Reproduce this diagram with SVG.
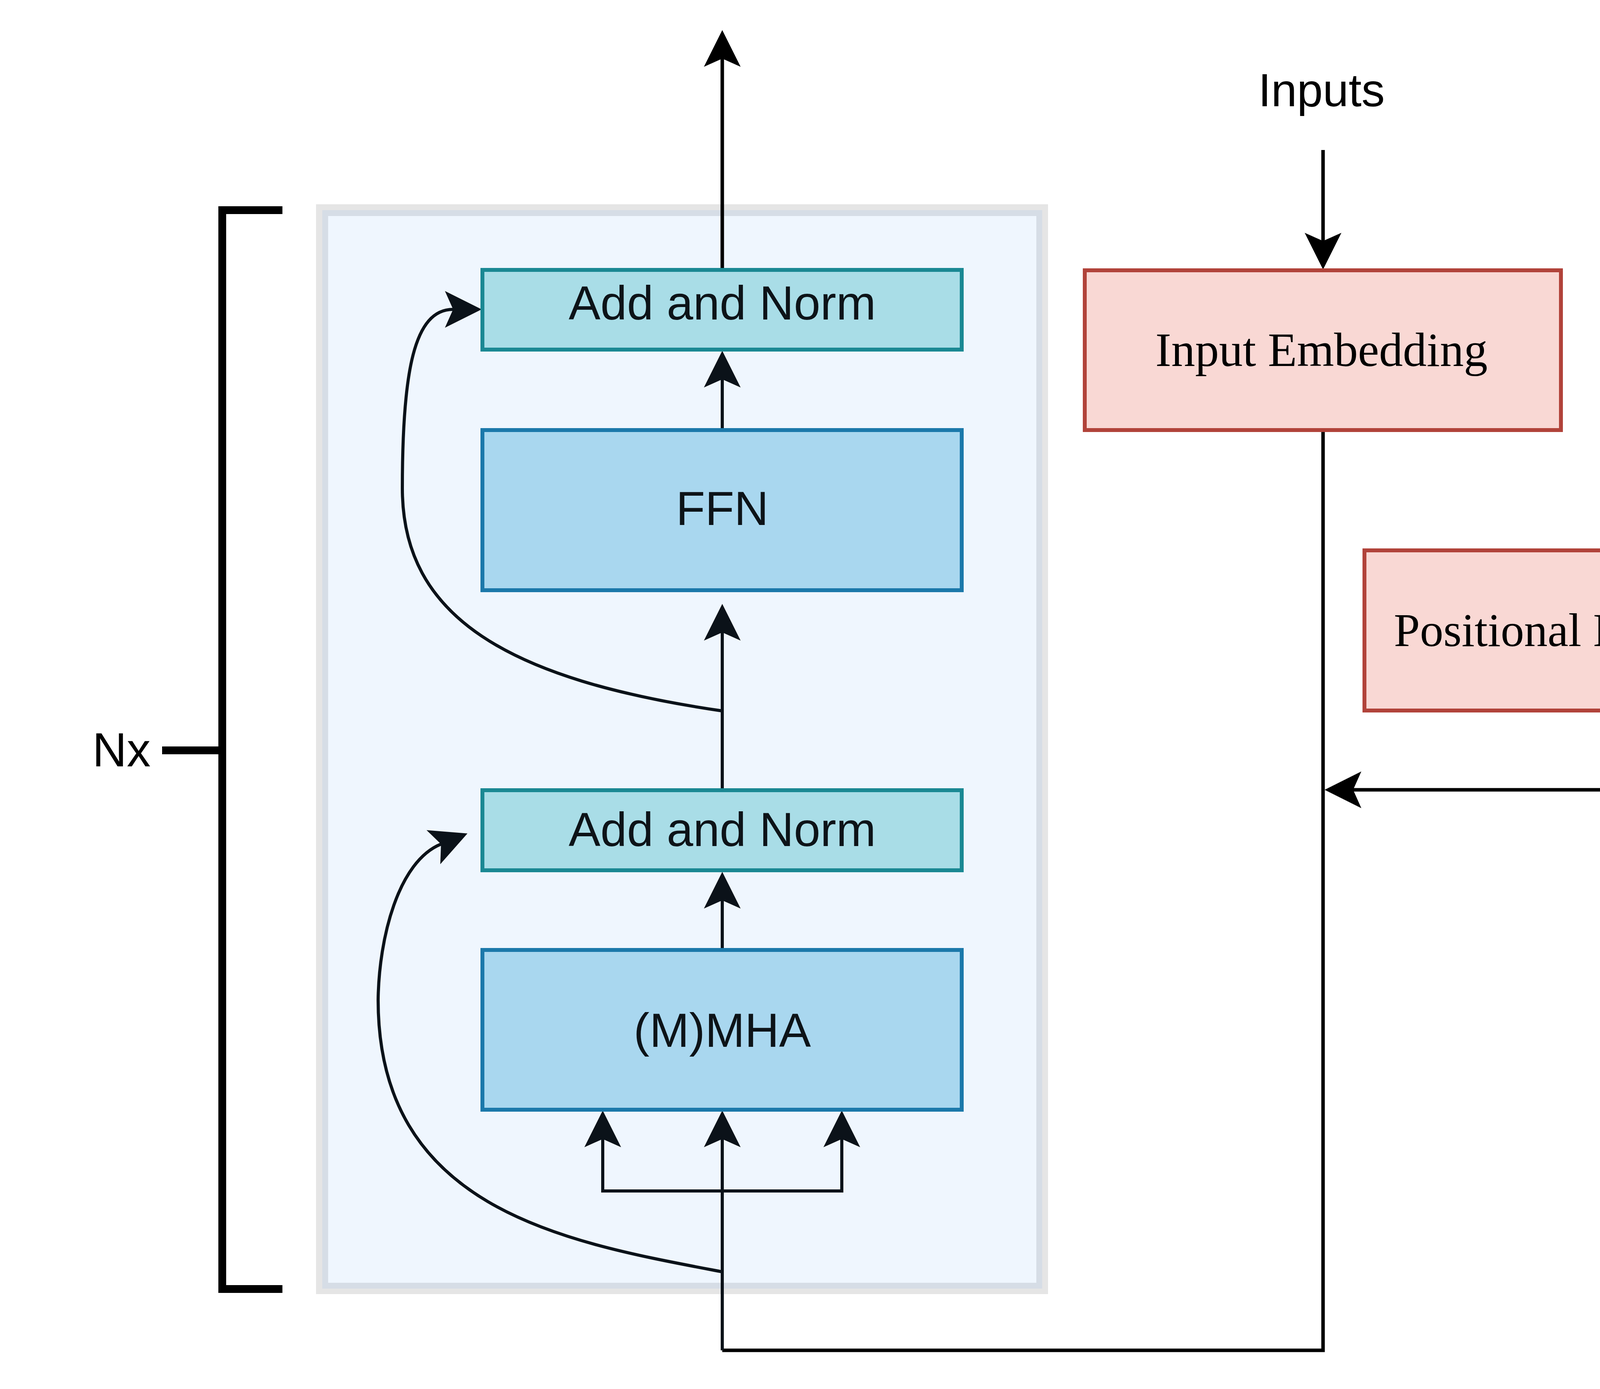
<svg xmlns="http://www.w3.org/2000/svg" width="4724" height="3556" viewBox="0 0 4724 3556">
  <style>
    .sans { font-family: "Liberation Sans", Arial, sans-serif; }
    .serif { font-family: "Liberation Serif", "Times New Roman", serif; }
    .lbl { font-size: 122px; fill: #0d1318; text-anchor: middle; }
    .norm { fill: #a9dde7; stroke: #1a8893; stroke-width: 10; }
    .blk { fill: #a9d7ef; stroke: #1b78aa; stroke-width: 10; }
    .emb { fill: #f9d8d4; stroke: #b1433a; stroke-width: 10; }
    .dk { fill: none; stroke: #0b1219; stroke-width: 8; }
    .bk { fill: none; stroke: #000000; stroke-width: 9; }
  </style>
  <defs>
    <marker id="arrDark" markerUnits="userSpaceOnUse" markerWidth="100" markerHeight="100" viewBox="0 -50 100 100" refX="21" refY="0" orient="auto" overflow="visible">
      <path d="M0,-47 L94,0 L0,47 L21,0 Z" fill="#0b1219"/>
    </marker>
    <marker id="arrBlack" markerUnits="userSpaceOnUse" markerWidth="100" markerHeight="100" viewBox="0 -50 100 100" refX="21" refY="0" orient="auto" overflow="visible">
      <path d="M0,-47 L94,0 L0,47 L21,0 Z" fill="#000000"/>
    </marker>
  </defs>
  <rect x="0" y="0" width="4724" height="3556" fill="#ffffff"/>

  <g id="container">
    <rect x="809" y="523" width="1874" height="2790" fill="#e5e5e5"/>
    <rect x="832.5" y="545.5" width="1828" height="2746" fill="#eff6fe" stroke="#d6dde6" stroke-width="15"/>
  </g>

  <g id="bracket">
    <path d="M723,538 H569 V3300 H723" fill="none" stroke="#000" stroke-width="20"/>
    <path d="M415,1921 H569" fill="none" stroke="#000" stroke-width="20"/>
    <text class="sans" x="311" y="1962" font-size="122" text-anchor="middle" fill="#000">Nx</text>
  </g>

  <g id="connectors">
    <path class="bk" d="M1849,691 V150" marker-end="url(#arrBlack)"/>
    <path class="dk" d="M1849,1101 V971" marker-end="url(#arrDark)"/>
    <path class="dk" d="M1849,2023 V1619" marker-end="url(#arrDark)"/>
    <path class="dk" d="M1849,1820 C1300,1740 1030,1580 1030,1250 C1030,950 1060,792 1160,792" marker-end="url(#arrDark)"/>
    <path class="dk" d="M1849,2432 V2305" marker-end="url(#arrDark)"/>
    <path class="dk" d="M1849,3256 C1450,3180 968,3100 968,2560 C970,2400 1020,2205 1129,2161" marker-end="url(#arrDark)"/>
    <path class="bk" d="M3387,1101 V3457 H1849"/>
    <path class="dk" d="M1849,3457 V2916" marker-end="url(#arrDark)"/>
    <path class="dk" d="M1849,3049 H1543 V2916" marker-end="url(#arrDark)"/>
    <path class="dk" d="M1849,3049 H2155 V2916" marker-end="url(#arrDark)"/>
    <path class="bk" d="M3387,384 V617" marker-end="url(#arrBlack)"/>
    <path class="bk" d="M4103,1819 V2022 H3464" marker-end="url(#arrBlack)"/>
  </g>

  <g id="add-norm-top">
    <rect class="norm" x="1235" y="691" width="1227" height="204"/>
    <text class="sans lbl" x="1849" y="818">Add and Norm</text>
  </g>
  <g id="ffn">
    <rect class="blk" x="1235" y="1101" width="1227" height="410"/>
    <text class="sans lbl" x="1849" y="1344">FFN</text>
  </g>
  <g id="add-norm-bottom">
    <rect class="norm" x="1235" y="2023" width="1227" height="205"/>
    <text class="sans lbl" x="1849" y="2166">Add and Norm</text>
  </g>
  <g id="mmha">
    <rect class="blk" x="1235" y="2432" width="1227" height="409"/>
    <text class="sans lbl" x="1849" y="2680">(M)MHA</text>
  </g>

  <g id="inputs-label">
    <text class="sans" x="3383" y="272" font-size="119" text-anchor="middle" fill="#000">Inputs</text>
  </g>
  <g id="input-embedding">
    <rect class="emb" x="2777" y="692" width="1219" height="409"/>
    <text class="serif" x="3383" y="937" font-size="122" text-anchor="middle" fill="#000">Input Embedding</text>
  </g>
  <g id="positional-embedding">
    <rect class="emb" x="3493" y="1409" width="1221" height="410"/>
    <text class="serif" x="4100" y="1654" font-size="120" text-anchor="middle" fill="#000">Positional Embedding</text>
  </g>
</svg>
